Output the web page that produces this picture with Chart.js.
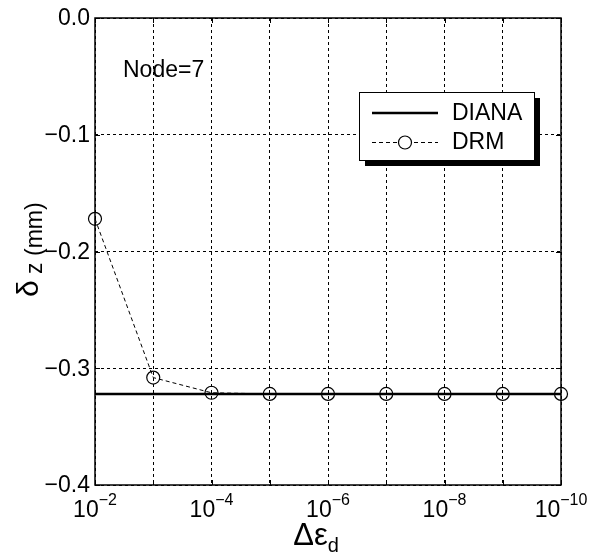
<!DOCTYPE html>
<html>
<head>
<meta charset="utf-8">
<script src="https://cdn.jsdelivr.net/npm/chart.js@4"></script>
<style>
  html, body { margin: 0; padding: 0; background: #fff; }
  #wrap { width: 589px; height: 554px; position: relative; }
</style>
</head>
<body>
<div id="wrap"><canvas id="grafica"></canvas></div>
<script>
// tamaño del paso (eje x, logarítmico) y desplazamiento vertical del nodo 7
const pasos = [1e-2, 1e-3, 1e-4, 1e-5, 1e-6, 1e-7, 1e-8, 1e-9, 1e-10];
const drm = [-0.172, -0.308, -0.321, -0.322, -0.322, -0.322, -0.322, -0.322, -0.322];
const diana = [-0.322, -0.322, -0.322, -0.322, -0.322, -0.322, -0.322, -0.322, -0.322];
const ticksY = [0, -0.1, -0.2, -0.3, -0.4];
const exponentesX = [-2, -4, -6, -8, -10];
const nodo = "Node=7";

const FUENTE = '"Liberation Sans", Arial, Helvetica, sans-serif';

// --- textos, caja y leyenda al estilo matlab ---
const estiloMatlab = {
    id: 'estiloMatlab',
    afterDraw(chart) {
        const ctx = chart.ctx;
        const area = chart.chartArea;
        const sx = chart.scales.x;
        const sy = chart.scales.y;
        ctx.save();
        ctx.fillStyle = '#000';
        ctx.strokeStyle = '#000';
        ctx.setLineDash([]);

        // marcas cortas hacia dentro
        ctx.lineWidth = 1;
        ticksY.forEach(v => {
            const y = Math.round(sy.getPixelForValue(v)) + 0.5;
            ctx.beginPath();
            ctx.moveTo(area.left, y); ctx.lineTo(area.left + 5, y);
            ctx.moveTo(area.right, y); ctx.lineTo(area.right - 5, y);
            ctx.stroke();
        });
        pasos.forEach(v => {
            const x = Math.round(sx.getPixelForValue(v)) + 0.5;
            ctx.beginPath();
            ctx.moveTo(x, area.bottom); ctx.lineTo(x, area.bottom - 5);
            ctx.moveTo(x, area.top); ctx.lineTo(x, area.top + 5);
            ctx.stroke();
        });

        // caja de ejes
        ctx.lineWidth = 1.5;
        ctx.strokeRect(area.left, area.top, area.right - area.left, area.bottom - area.top);

        // etiquetas del eje y
        ctx.font = '23px ' + FUENTE;
        ctx.textAlign = 'right';
        ctx.textBaseline = 'middle';
        ticksY.forEach(v => {
            const txt = v === 0 ? '0.0' : '\u2212' + Math.abs(v).toFixed(1);
            ctx.fillText(txt, area.left - 5, sy.getPixelForValue(v) + 1);
        });

        // etiquetas del eje x: 10 con exponente
        ctx.textBaseline = 'alphabetic';
        ctx.textAlign = 'left';
        exponentesX.forEach(e => {
            const x = sx.getPixelForValue(Math.pow(10, e));
            ctx.font = '23px ' + FUENTE;
            const base = '10';
            const wBase = ctx.measureText(base).width;
            ctx.font = '16px ' + FUENTE;
            const sup = '\u2212' + Math.abs(e);
            const wSup = ctx.measureText(sup).width;
            const x0 = x - (wBase + wSup) / 2;
            ctx.font = '23px ' + FUENTE;
            ctx.fillText(base, x0, 517);
            ctx.font = '16px ' + FUENTE;
            ctx.fillText(sup, x0 + wBase, 505);
        });

        // título eje x: Δε con subíndice d
        ctx.font = '31px ' + FUENTE;
        const tx = '\u0394\u03b5';
        const wTx = ctx.measureText(tx).width;
        ctx.font = '20px ' + FUENTE;
        const wSub = ctx.measureText('d').width;
        const cx = (area.left + area.right) / 2 - 12;
        const xi = cx - (wTx + wSub) / 2;
        ctx.font = '31px ' + FUENTE;
        ctx.fillText(tx, xi, 545);
        ctx.font = '20px ' + FUENTE;
        ctx.fillText('d', xi + wTx, 552);

        // título eje y: δ z (mm), girado
        ctx.save();
        ctx.translate(0, 0);
        ctx.font = '30px ' + FUENTE;
        const wDelta = ctx.measureText('\u03b4').width;
        ctx.save();
        ctx.translate(38, 297);
        ctx.rotate(-Math.PI / 2);
        ctx.fillText('\u03b4', 0, 0);
        ctx.restore();
        ctx.save();
        ctx.translate(42, 297 - wDelta);
        ctx.rotate(-Math.PI / 2);
        ctx.font = '23px ' + FUENTE;
        ctx.fillText(' z (mm)', 0, 0);
        ctx.restore();
        ctx.restore();

        // texto del nodo
        ctx.font = '23px ' + FUENTE;
        ctx.fillText(nodo, 123, 77);

        // leyenda con sombra
        const lx = 359, ly = 92, lw = 175, lh = 68;
        ctx.fillStyle = '#000';
        ctx.fillRect(lx + 6, ly + 6, lw, lh);
        ctx.fillStyle = '#fff';
        ctx.fillRect(lx, ly, lw, lh);
        ctx.lineWidth = 1;
        ctx.strokeRect(lx + 0.5, ly + 0.5, lw, lh);

        ctx.strokeStyle = '#000';
        ctx.lineWidth = 2.5;
        ctx.beginPath();
        ctx.moveTo(372, 113); ctx.lineTo(438, 113);
        ctx.stroke();

        ctx.lineWidth = 1;
        ctx.setLineDash([4, 3]);
        ctx.beginPath();
        ctx.moveTo(372, 142.5); ctx.lineTo(438, 142.5);
        ctx.stroke();
        ctx.setLineDash([]);
        ctx.fillStyle = '#fff';
        ctx.beginPath();
        ctx.arc(405, 142.5, 6.5, 0, Math.PI * 2);
        ctx.fill();
        ctx.lineWidth = 1.2;
        ctx.stroke();

        ctx.fillStyle = '#000';
        ctx.font = '23px ' + FUENTE;
        ctx.textBaseline = 'middle';
        ctx.fillText('DIANA', 452, 114);
        ctx.fillText('DRM', 452, 143);

        ctx.restore();
    }
};

function inicializarGrafica() {
    const ctx = document.getElementById('grafica').getContext('2d');
    new Chart(ctx, {
        type: 'line',
        data: {
            labels: pasos,
            datasets: [
                {
                    label: 'DIANA',
                    data: pasos.map((p, i) => ({ x: p, y: diana[i] })),
                    borderColor: '#000',
                    borderWidth: 2.5,
                    pointRadius: 0,
                    fill: false,
                    clip: false
                },
                {
                    label: 'DRM',
                    data: pasos.map((p, i) => ({ x: p, y: drm[i] })),
                    borderColor: '#000',
                    borderWidth: 1,
                    borderDash: [4, 3],
                    pointRadius: 6.5,
                    pointBorderWidth: 1.2,
                    pointBackgroundColor: 'rgba(0,0,0,0)',
                    pointBorderColor: '#000',
                    fill: false,
                    clip: false
                }
            ]
        },
        options: {
            responsive: true,
            maintainAspectRatio: false,
            animation: false,
            layout: { padding: { left: 95, right: 28, top: 18, bottom: 69 } },
            plugins: { legend: { display: false }, tooltip: { enabled: false } },
            scales: {
                x: {
                    type: 'logarithmic',
                    reverse: true,
                    min: 1e-10,
                    max: 1e-2,
                    afterBuildTicks: (scale) => {
                        scale.ticks = pasos.map(v => ({ value: v }));
                    },
                    ticks: { display: false },
                    grid: { color: '#000', lineWidth: 1, drawTicks: false },
                    border: { display: false, dash: [3, 3] }
                },
                y: {
                    type: 'linear',
                    min: -0.4,
                    max: 0,
                    afterBuildTicks: (scale) => {
                        scale.ticks = ticksY.map(v => ({ value: v }));
                    },
                    ticks: { display: false },
                    grid: { color: '#000', lineWidth: 1, drawTicks: false },
                    border: { display: false, dash: [3, 3] }
                }
            }
        },
        plugins: [estiloMatlab]
    });
}

window.onload = inicializarGrafica;
</script>
</body>
</html>
